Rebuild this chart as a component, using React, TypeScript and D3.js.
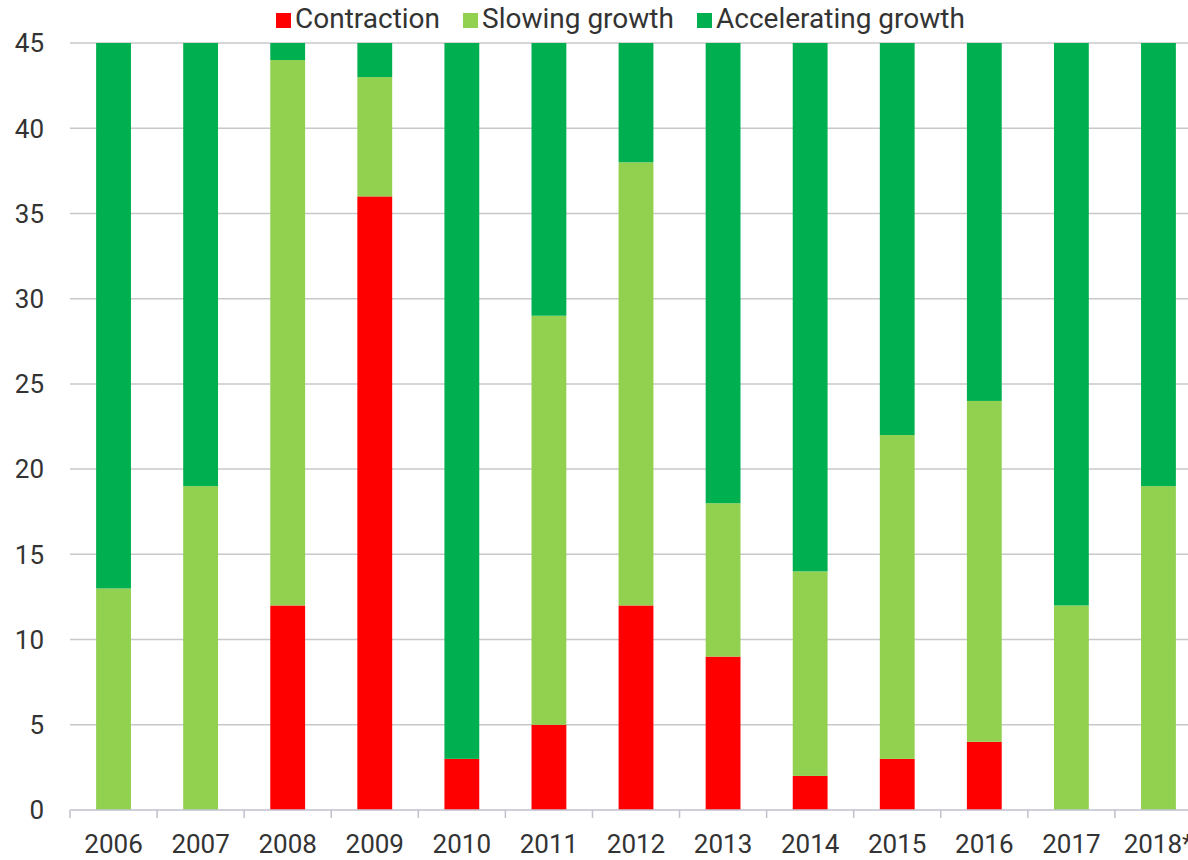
import React, { useEffect, useRef } from 'react';
import * as d3 from 'd3';

const years = ['2006', '2007', '2008', '2009', '2010', '2011', '2012', '2013', '2014', '2015', '2016', '2017', '2018*'];
const contraction = [0, 0, 12, 36, 3, 5, 12, 9, 2, 3, 4, 0, 0];
const slowing = [13, 19, 32, 7, 0, 24, 26, 9, 12, 19, 20, 12, 19];
const accelerating = [32, 26, 1, 2, 42, 16, 7, 27, 31, 23, 21, 33, 26];
const yTicks = [0, 5, 10, 15, 20, 25, 30, 35, 40, 45];

const seriesKeys = ['Contraction', 'Slowing growth', 'Accelerating growth'];
const colors = ['#ff0000', '#92d050', '#00b050'];

const W = 1188;
const H = 860;

const App: React.FC = () => {
  const svgRef = useRef<SVGSVGElement>(null);

  useEffect(() => {
    if (!svgRef.current) return;
    const svg = d3.select(svgRef.current);
    svg.selectAll('*').remove();

    const font = 'Roboto, "Noto Sans", sans-serif';
    const left = 70;
    const right = 1202;
    const top = 43;
    const bottom = 810;

    const rows = years.map((y, i) => ({
      year: y,
      'Contraction': contraction[i],
      'Slowing growth': slowing[i],
      'Accelerating growth': accelerating[i],
    }));

    const x = d3.scaleBand().domain(years).range([left, right]).paddingInner(0).paddingOuter(0);
    const y = d3.scaleLinear().domain([0, 45]).range([bottom, top]);
    const barW = x.step() * 0.4;

    // gridlines
    svg.append('g')
      .selectAll('line')
      .data(yTicks.filter(t => t > 0))
      .join('line')
      .attr('x1', left)
      .attr('x2', W)
      .attr('y1', d => y(d))
      .attr('y2', d => y(d))
      .attr('stroke', '#c8c8c8')
      .attr('stroke-width', 1.5);

    // y labels
    svg.append('g')
      .selectAll('text')
      .data(yTicks)
      .join('text')
      .attr('x', 44)
      .attr('y', d => y(d))
      .attr('dy', '0.36em')
      .attr('text-anchor', 'end')
      .attr('font-family', font)
      .attr('font-size', 26)
      .attr('fill', '#333')
      .text(d => d);

    // stacked bars
    const stack = d3.stack<any>().keys(seriesKeys)(rows);
    svg.append('g')
      .selectAll('g')
      .data(stack)
      .join('g')
      .attr('fill', (_d, i) => colors[i])
      .selectAll('rect')
      .data(d => d)
      .join('rect')
      .attr('x', d => (x(d.data.year) as number) + (x.step() - barW) / 2)
      .attr('width', barW)
      .attr('y', d => y(d[1]))
      .attr('height', d => y(d[0]) - y(d[1]));

    // x axis line and ticks
    const axis = svg.append('g');
    axis.append('line')
      .attr('x1', left).attr('x2', W)
      .attr('y1', bottom).attr('y2', bottom)
      .attr('stroke', '#c0c0d0').attr('stroke-width', 1.5);
    axis.selectAll('line.tick')
      .data(years)
      .join('line')
      .attr('class', 'tick')
      .attr('x1', d => x(d) as number)
      .attr('x2', d => x(d) as number)
      .attr('y1', bottom)
      .attr('y2', bottom + 8)
      .attr('stroke', '#c0c0d0').attr('stroke-width', 1.5);
    axis.selectAll('text')
      .data(years)
      .join('text')
      .attr('x', d => (x(d) as number) + x.step() / 2)
      .attr('y', 853)
      .attr('text-anchor', 'middle')
      .attr('font-family', font)
      .attr('font-size', 26)
      .attr('fill', '#333')
      .text(d => d);

    // legend
    const legendX = [276, 463, 697];
    const lg = svg.append('g');
    seriesKeys.forEach((k, i) => {
      lg.append('rect')
        .attr('x', legendX[i]).attr('y', 13)
        .attr('width', 15).attr('height', 15)
        .attr('fill', colors[i]);
      lg.append('text')
        .attr('x', legendX[i] + 19).attr('y', 28)
        .attr('font-family', font)
        .attr('font-size', 28)
        .attr('fill', '#333')
        .text(k);
    });
  }, []);

  return (
    <svg
      ref={svgRef}
      width={W}
      height={H}
      style={{ position: 'absolute', left: 0, top: 0, background: '#fff' }}
    />
  );
};

export default App;
